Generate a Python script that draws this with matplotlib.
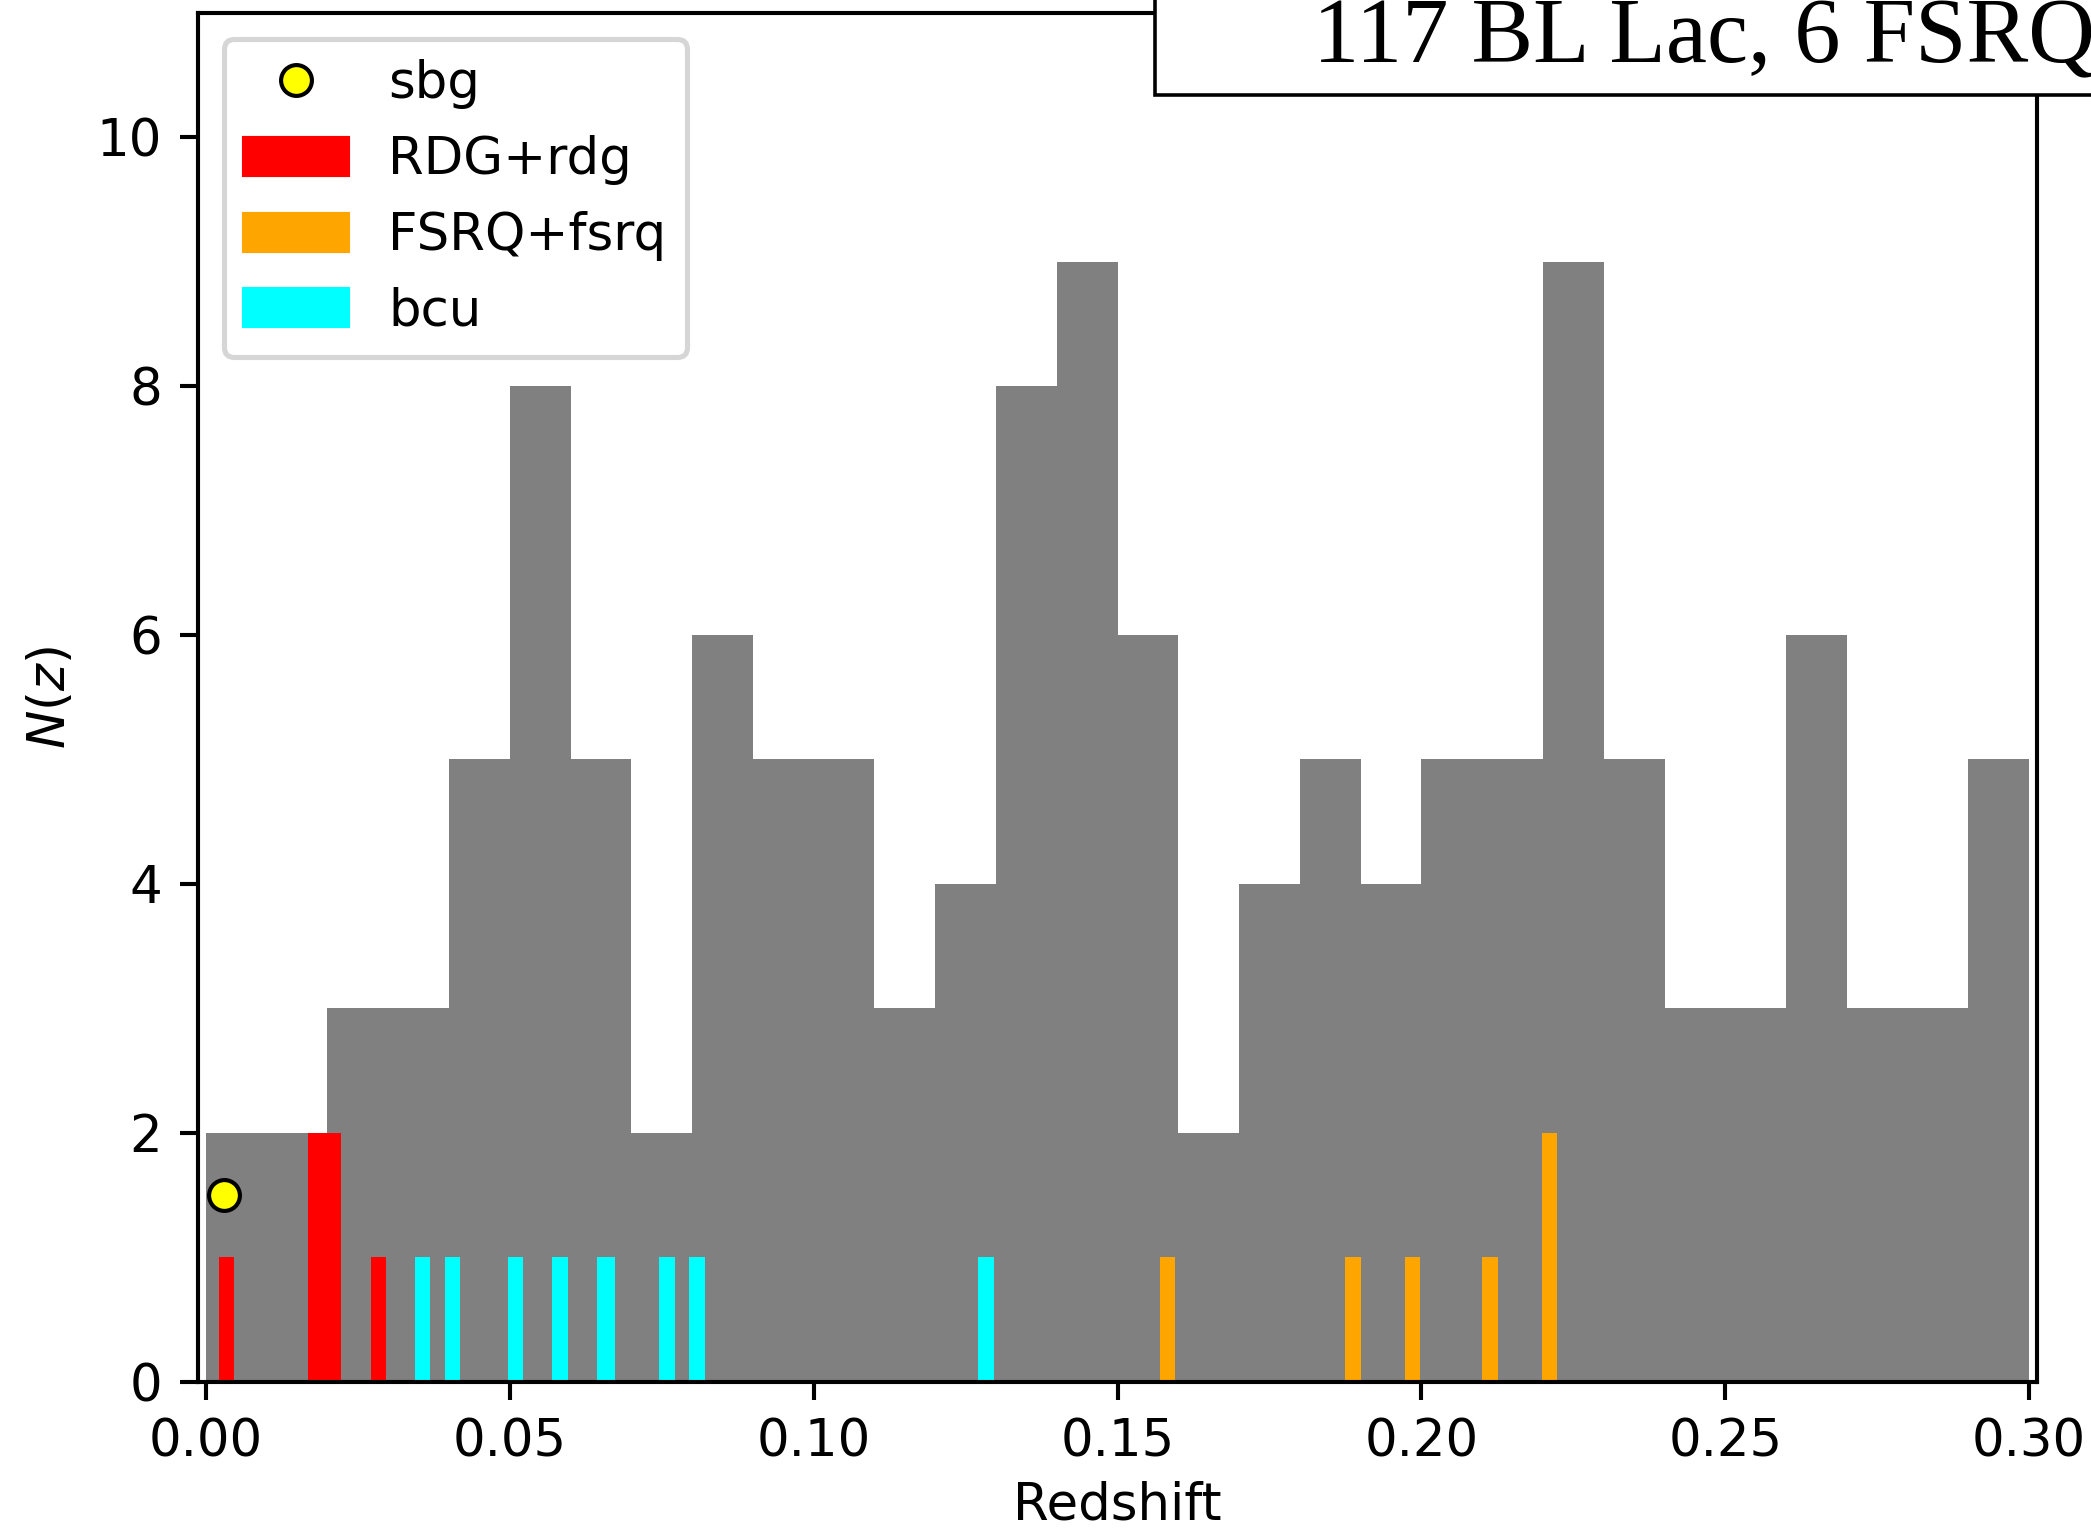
import numpy as np
import matplotlib
matplotlib.use("Agg")
import matplotlib.pyplot as plt
from matplotlib.patches import Patch, Rectangle

# ── data ────────────────────────────────────────────────────────────────────
BIN_EDGES = np.linspace(0.0, 0.30, 31)           # 0.01-wide redshift bins
ALL_COUNTS = [2, 2, 3, 3, 5, 8, 5, 2, 6, 5,
              5, 3, 4, 8, 9, 6, 2, 4, 5, 4,
              5, 5, 9, 5, 3, 3, 6, 3, 3, 5]

SBG_Z = [0.0030]
SBG_N = [1.5]

RDG_Z = [0.00335, 0.0195, 0.02834]
RDG_N = [1, 2, 1]

FSRQ_Z = [0.1582, 0.18875, 0.1985, 0.2113, 0.2211]
FSRQ_N = [1, 1, 1, 1, 2]

BCU_Z = [0.03568, 0.04058, 0.05092, 0.05825, 0.0656, 0.0661,
         0.07588, 0.08079, 0.12835]
BCU_N = [1, 1, 1, 1, 1, 1, 1, 1, 1]

BOX_TEXT = "117 BL Lac, 6 FSRQ"

# ── figure ──────────────────────────────────────────────────────────────────
DPI = 370
fig = plt.figure(figsize=(2091 / DPI, 1533 / DPI), dpi=DPI)
ax = fig.add_axes([0.0947, 0.0988, 0.8795, 0.8927])

ax.bar(BIN_EDGES[:-1], ALL_COUNTS, width=np.diff(BIN_EDGES), align="edge",
       color="gray", zorder=1)

bw = 0.0025
rdg_w = [bw, 2.2 * bw, bw]   # the z~0.02 bar is drawn wider in the original
ax.bar(RDG_Z, RDG_N, width=rdg_w, color="red", zorder=2)
ax.bar(FSRQ_Z, FSRQ_N, width=bw, color="orange", zorder=2)
ax.bar(BCU_Z, BCU_N, width=bw, color="cyan", zorder=2)
ax.plot(SBG_Z, SBG_N, "o", color="yellow", mec="black", mew=0.8, ms=6, zorder=3)

ax.set_xlim(-0.0013, 0.3013)
ax.set_ylim(0, 11)
ax.set_xticks(np.arange(0, 0.301, 0.05))
ax.set_yticks(np.arange(0, 11, 2))
ax.set_xlabel("Redshift", labelpad=2.5)
ax.set_ylabel("$N(z)$")

handles = [
    plt.Line2D([0], [0], ls="none", marker="o", color="yellow", mec="black",
               mew=0.8, ms=6, label="sbg"),
    Patch(color="red", label="RDG+rdg"),
    Patch(color="orange", label="FSRQ+fsrq"),
    Patch(color="cyan", label="bcu"),
]
ax.legend(handles=handles, loc="upper left")

# text box sitting on the top-right corner (clipped by the figure edge)
fig.patches.append(Rectangle((0.5524, 0.938), 0.6, 0.2, transform=fig.transFigure,
                             facecolor="white", edgecolor="black", lw=0.7,
                             zorder=10))
fig.text(0.628, 0.9596, BOX_TEXT, family="Liberation Serif", fontsize=18,
         ha="left", va="baseline", zorder=11)

fig.savefig("out.png", dpi=DPI)
